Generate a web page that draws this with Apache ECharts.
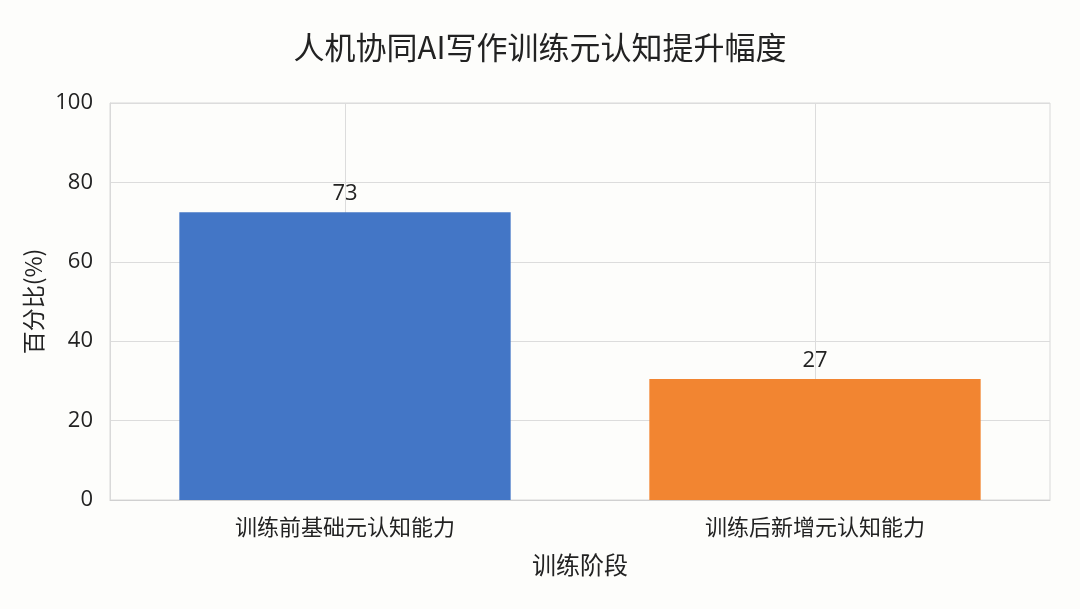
<!DOCTYPE html>
<html>
<head>
<meta charset="utf-8">
<script src="https://cdn.jsdelivr.net/npm/echarts@6/dist/echarts.min.js"></script>
<style>
html,body{margin:0;padding:0;background:#fdfdfb;}
#c{width:1080px;height:609px;}
</style>
</head>
<body>
<div id="c"></div>
<script>
const categories = ['训练前基础元认知能力', '训练后新增元认知能力'];
const values = [72.5, 30.5];
const valueLabels = ['73', '27'];
const barColors = ['#4376c6', '#f28531'];
const yTicks = [0, 20, 40, 60, 80, 100];

const chart = echarts.init(document.getElementById('c'), null, {renderer: 'canvas'});
const font = '"Noto Sans CJK SC", "Noto Sans", sans-serif';
chart.setOption({
  backgroundColor: '#fdfdfb',
  animation: false,
  title: {
    text: '人机协同AI写作训练元认知提升幅度',
    left: 'center',
    top: 27,
    textStyle: {fontFamily: font, fontSize: 31, fontWeight: 'normal', color: '#222'}
  },
  grid: {left: 110, right: 30, top: 103, bottom: 109, show: true, borderColor: '#d9d9d9', borderWidth: 1},
  xAxis: {
    type: 'category',
    data: categories,
    name: '训练阶段',
    nameLocation: 'middle',
    nameGap: 53,
    nameTextStyle: {fontFamily: font, fontSize: 24, color: '#222'},
    axisLine: {lineStyle: {color: '#d0d0d0'}},
    axisTick: {show: false},
    axisLabel: {fontFamily: font, fontSize: 22, color: '#222', margin: 16},
    splitLine: {show: true, alignWithLabel: true, lineStyle: {color: '#dcdcdc'}}
  },
  yAxis: {
    type: 'value',
    min: yTicks[0],
    max: yTicks[yTicks.length - 1],
    interval: 20,
    name: '百分比(%)',
    nameLocation: 'middle',
    nameGap: 63,
    nameTextStyle: {fontFamily: font, fontSize: 23, color: '#222'},
    axisLine: {show: true, lineStyle: {color: '#d9d9d9'}},
    axisTick: {show: false},
    axisLabel: {fontFamily: '"Open Sans", "Noto Sans", sans-serif', fontSize: 22, color: '#222', margin: 17},
    splitLine: {show: true, lineStyle: {color: '#dcdcdc'}}
  },
  series: [{
    type: 'bar',
    barWidth: '70.5%',
    data: values.map((v, i) => ({value: v, itemStyle: {color: barColors[i]}})),
    label: {
      show: true,
      position: 'top',
      distance: 7,
      formatter: p => valueLabels[p.dataIndex],
      fontFamily: '"Open Sans", "Noto Sans", sans-serif',
      fontSize: 22,
      color: '#222'
    }
  }]
});
</script>
</body>
</html>
